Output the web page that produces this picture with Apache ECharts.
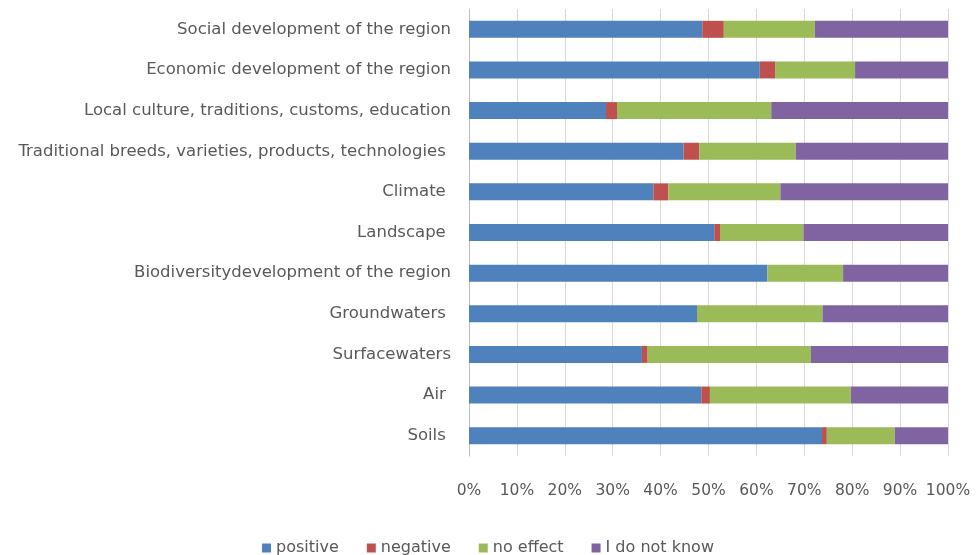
<html>
<head>
    <meta charset='utf-8' />
    <script src="https://cdn.jsdelivr.net/npm/echarts@6/dist/echarts.min.js"></script>
    <style>
        body { margin: 0; background: #fff; }
        #chart { width: 976px; height: 555px; }
    </style>
</head>
<body>
    <div id="chart"></div>
    <script type="text/javascript">
        // top to bottom, as in the picture
        var categories = [
            'Social development of the region',
            'Economic development of the region',
            'Local culture, traditions, customs, education',
            'Traditional breeds, varieties, products, technologies ',
            'Climate ',
            'Landscape ',
            'Biodiversitydevelopment of the region',
            'Groundwaters ',
            'Surfacewaters',
            'Air ',
            'Soils '
        ];
        var positive = [48.7, 60.7, 28.6, 44.8, 38.5, 51.2, 62.3, 47.6, 36.1, 48.5, 73.7];
        var negative = [4.5, 3.2, 2.3, 3.3, 3.1, 1.2, 0, 0, 1.2, 1.8, 1.0];
        var noEffect = [19.0, 16.7, 32.2, 20.1, 23.4, 17.4, 15.8, 26.2, 34.1, 29.4, 14.2];
        var dontKnow = [27.8, 19.4, 36.9, 31.8, 35.0, 30.2, 21.9, 26.2, 28.6, 20.3, 11.1];
        var seriesNames = ['positive', 'negative', 'no effect', 'I do not know'];
        var colors = ['#4f81bd', '#c0504d', '#9bbb59', '#8064a2'];

        var font = 'DejaVu Sans';
        var chart = echarts.init(document.getElementById('chart'));

        function bar(name, data) {
            return {
                name: name,
                type: 'bar',
                stack: 'total',
                barWidth: 17,
                data: data
            };
        }

        chart.setOption({
            animation: false,
            color: colors,
            textStyle: { fontFamily: font },
            grid: { left: 469, right: 28, top: 9, bottom: 99 },
            legend: {
                top: 535,
                left: 'center',
                itemWidth: 9,
                itemHeight: 9,
                itemGap: 28,
                icon: 'rect',
                textStyle: { color: '#595959', fontSize: 16, fontFamily: font },
                data: seriesNames
            },
            xAxis: {
                type: 'value',
                min: 0,
                max: 100,
                interval: 10,
                axisLine: { show: false },
                axisTick: { show: false },
                splitLine: { lineStyle: { color: '#d9d9d9', width: 1 } },
                axisLabel: {
                    color: '#595959',
                    fontSize: 15.5,
                    margin: 27,
                    formatter: '{value}%'
                }
            },
            yAxis: {
                type: 'category',
                inverse: true,
                data: categories,
                axisLine: { show: true, lineStyle: { color: '#bfbfbf' } },
                axisTick: { show: false },
                axisLabel: { color: '#595959', fontSize: 16.5, margin: 18 }
            },
            series: [
                bar(seriesNames[0], positive),
                bar(seriesNames[1], negative),
                bar(seriesNames[2], noEffect),
                bar(seriesNames[3], dontKnow)
            ]
        });
    </script>
</body>
</html>
